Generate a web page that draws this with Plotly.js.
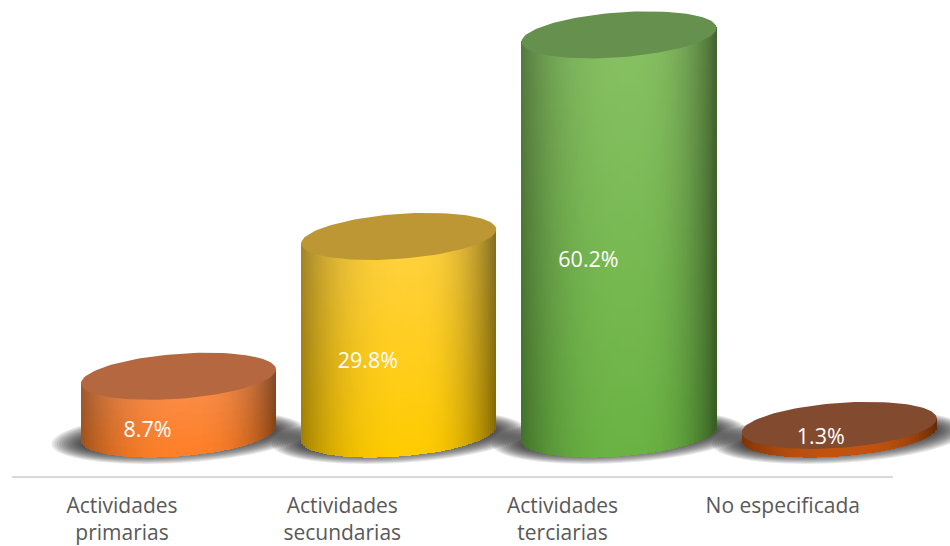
<!DOCTYPE html>
<html>
<head>
<meta charset="utf-8">
<script src="https://cdn.plot.ly/plotly-3.0.1.min.js"></script>
<style>html,body{margin:0;padding:0;background:#fff;overflow:hidden}</style>
</head>
<body>
<div id="chart" style="width:950px;height:546px"></div>
<script>
// ---- data ----
const categories = ['Actividades<br>primarias', 'Actividades<br>secundarias', 'Actividades<br>terciarias', 'No especificada'];
const values = [8.7, 29.8, 60.2, 1.3];

// ---- styling ----
const capColors  = ['#b5683f', '#be9735', '#65904e', '#824a2e'];
const bodyLow    = ['#ff7f26', '#ffcb00', '#6ab343', '#c2530f'];
const bodyHigh   = ['#f98f4e', '#ffd141', '#87c063', '#c2530f'];
const labelDX    = [0.116, 0.116, 0.118, 0.1725];
const labelDY    = [0.3, 10.75, 25.95, -0.7];

// geometry, in axis units
const PX_PER_X = 220.25, PX_PER_Y = 6.63;
const OFFSET = 0.2565, HALF = 97.5 / PX_PER_X;
const ELL_B = 22.5 / PX_PER_Y, ELL_S = 7 / PX_PER_Y;
const YMIN = -43 / PX_PER_Y, YMAX = 434 / PX_PER_Y;

const rgb = h => [1,3,5].map(i => parseInt(h.substr(i,2),16));
function shade(u){
  const d = u - 0.1;
  return 1 - (d < 0 ? 0.29 : 0.64) * Math.pow(Math.abs(d), 2.6);
}
function mix(a,b,v,s){
  return 'rgb(' + a.map((c,i)=>Math.round((c+(b[i]-c)*v)*s)).join(',') + ')';
}
const edgeY = (u,sign) => ELL_S*u + sign*ELL_B*Math.sqrt(Math.max(0,1-u*u));

// cylinder bodies: one bar trace per category, split into thin strips
const traces = values.map((val,i) => {
  const cx = i + OFFSET, xs=[], bases=[], hs=[], cols=[];
  const low = rgb(bodyLow[i]), high = rgb(bodyHigh[i]);
  const nStrips = 98;
  for (let k=0;k<nStrips;k++){
    const u = -1 + (k+0.5)*2/nStrips;
    const y0 = edgeY(u,-1), y1 = val + ELL_S*u;
    const nSeg = Math.max(3, Math.ceil((y1-y0)*PX_PER_Y/10));
    for (let j=0;j<nSeg;j++){
      xs.push(cx + u*HALF);
      bases.push(y0 + (y1-y0)*j/nSeg);
      hs.push((y1-y0)/nSeg + 0.1);
      cols.push(mix(low,high,(j+0.5)/nSeg,shade(u)));
    }
  }
  return {type:'bar', x:xs, y:hs, base:bases, width:2*HALF/nStrips*1.02,
          marker:{color:cols, line:{width:0}}, hoverinfo:'skip', showlegend:false};
});

// top caps
values.forEach((val,i) => {
  const cx = i + OFFSET, xs=[], ys=[];
  for (let k=0;k<=120;k++){
    const a = k/120*2*Math.PI, u = Math.cos(a);
    xs.push(cx + u*HALF);
    ys.push(val + ELL_S*u + ELL_B*Math.sin(a));
  }
  traces.push({type:'scatter', mode:'lines', x:xs, y:ys, fill:'toself', fillcolor:capColors[i],
    line:{width:0, color:capColors[i]}, hoverinfo:'skip', showlegend:false});
});

// value labels
traces.push({type:'scatter', mode:'text', x:values.map((v,i)=>i+labelDX[i]), y:labelDY,
  text:values.map(v=>v.toFixed(1)+'%'), textposition:'middle center',
  textfont:{family:'"Open Sans", sans-serif', size:21.5, color:'#ffffff'},
  hoverinfo:'skip', showlegend:false});

// soft floor shadows below the traces, and the baseline
const shapes = [];
values.forEach((val,i) => {
  const cx = i + OFFSET, layers = 14;
  for (let l=0;l<layers;l++){
    const f = 1 - l*0.02;
    const A = 127/PX_PER_X*f, B = 26/PX_PER_Y*(1-l*0.04), S = 7/PX_PER_Y, c0 = -3/PX_PER_Y;
    let p='';
    for (let k=0;k<=72;k++){
      const a = k/72*2*Math.PI, u = Math.cos(a);
      p += (k?'L':'M') + (cx+u*A) + ',' + (c0 + S*u + B*Math.sin(a)) + ' ';
    }
    shapes.push({type:'path', path:p+'Z', xref:'x', yref:'y', layer:'below',
      fillcolor:'rgba(30,30,30,0.105)', line:{width:0}});
  }
});
shapes.push({type:'line', xref:'x', yref:'paper', x0:-0.5, x1:3.5, y0:0, y1:0, layer:'below',
  line:{color:'#d9d9d9', width:2}});

// the tick font sets the line pitch of the two-line labels, the span sets the glyph size
const tickText = categories.map(c => c.split('<br>').map(s => '<span style="font-size:21px">'+s+'</span>').join('<br>'));

const layout = {
  width:950, height:546, paper_bgcolor:'#fff', plot_bgcolor:'rgba(0,0,0,0)',
  margin:{l:0, r:0, t:0, b:69}, barmode:'overlay', bargap:0, showlegend:false,
  xaxis:{range:[-122/PX_PER_X, (950-122)/PX_PER_X], tickmode:'array', tickvals:[0,1,2,3], ticktext:tickText,
    showgrid:false, zeroline:false, showline:false, ticks:'',
    tickfont:{family:'"Open Sans", sans-serif', size:21.5, color:'#595959'}, ticklabelstandoff:13, fixedrange:true},
  yaxis:{range:[YMIN,YMAX], visible:false, fixedrange:true},
  shapes
};
Plotly.newPlot('chart', traces, layout, {displayModeBar:false, staticPlot:true});
</script>
</body>
</html>
